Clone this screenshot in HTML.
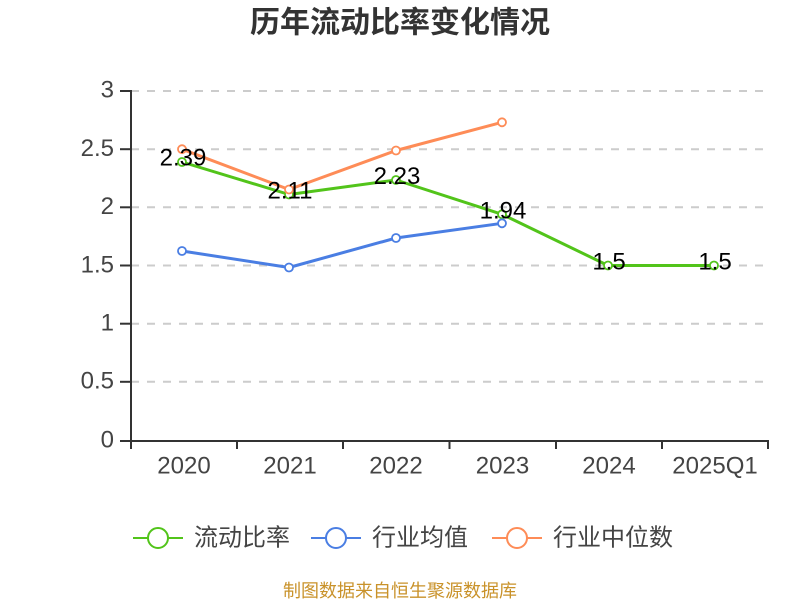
<!DOCTYPE html>
<html>
<head>
<meta charset="utf-8">
<style>
html,body{margin:0;padding:0;background:#fff;}
svg{display:block;}
text{font-family:"Liberation Sans","Noto Sans CJK SC",sans-serif;}
</style>
</head>
<body>
<svg width="800" height="600" viewBox="0 0 800 600" xmlns="http://www.w3.org/2000/svg">
  <rect width="800" height="600" fill="#fff"/>
  <text x="400" y="23" text-anchor="middle" dominant-baseline="central" font-size="30" font-weight="bold" fill="#333">历年流动比率变化情况</text>

  <!-- grid -->
  <g stroke="#cccccc" stroke-width="2" stroke-dasharray="8,8" fill="none">
    <line x1="131" y1="91" x2="768" y2="91"/>
    <line x1="131" y1="149.2" x2="768" y2="149.2"/>
    <line x1="131" y1="207.3" x2="768" y2="207.3"/>
    <line x1="131" y1="265.5" x2="768" y2="265.5"/>
    <line x1="131" y1="323.7" x2="768" y2="323.7"/>
    <line x1="131" y1="381.8" x2="768" y2="381.8"/>
  </g>

  <!-- axes -->
  <g stroke="#333" stroke-width="2" fill="none">
    <line x1="131" y1="90" x2="131" y2="441"/>
    <line x1="130" y1="441" x2="769" y2="441"/>
    <line x1="120" y1="91" x2="131" y2="91"/>
    <line x1="120" y1="149.2" x2="131" y2="149.2"/>
    <line x1="120" y1="207.3" x2="131" y2="207.3"/>
    <line x1="120" y1="265.5" x2="131" y2="265.5"/>
    <line x1="120" y1="323.7" x2="131" y2="323.7"/>
    <line x1="120" y1="381.8" x2="131" y2="381.8"/>
    <line x1="120" y1="441" x2="131" y2="441"/>
    <line x1="131" y1="441" x2="131" y2="449"/>
    <line x1="237" y1="441" x2="237" y2="449"/>
    <line x1="343" y1="441" x2="343" y2="449"/>
    <line x1="449.5" y1="441" x2="449.5" y2="449"/>
    <line x1="556" y1="441" x2="556" y2="449"/>
    <line x1="662" y1="441" x2="662" y2="449"/>
    <line x1="768" y1="441" x2="768" y2="449"/>
  </g>

  <!-- y labels -->
  <g font-size="24" fill="#444" text-anchor="end" dominant-baseline="central">
    <text x="114" y="90">3</text>
    <text x="114" y="148.5">2.5</text>
    <text x="114" y="206.5">2</text>
    <text x="114" y="265">1.5</text>
    <text x="114" y="323">1</text>
    <text x="114" y="381">0.5</text>
    <text x="114" y="440">0</text>
  </g>

  <!-- x labels -->
  <g font-size="24" fill="#444" text-anchor="middle" dominant-baseline="central">
    <text x="184" y="466">2020</text>
    <text x="290" y="466">2021</text>
    <text x="396" y="466">2022</text>
    <text x="502.5" y="466">2023</text>
    <text x="609" y="466">2024</text>
    <text x="715" y="466">2025Q1</text>
  </g>

  <!-- series: green -->
  <polyline fill="none" stroke="#52c41a" stroke-width="3" stroke-linejoin="round"
    points="182,162 289,194.5 396,180 502,214.3 608,265.5 714,265.5"/>
  <!-- blue -->
  <polyline fill="none" stroke="#4a7ee3" stroke-width="3" stroke-linejoin="round"
    points="182,251 289,267.5 396,238 502,223.3"/>
  <!-- orange -->
  <polyline fill="none" stroke="#fe8c57" stroke-width="3" stroke-linejoin="round"
    points="182,149.2 289,189.5 396,150.5 502,122.3"/>

  <g fill="#fff" stroke-width="1.8">
    <g stroke="#52c41a">
      <circle cx="182" cy="162" r="4"/>
      <circle cx="289" cy="194.5" r="4"/>
      <circle cx="396" cy="180" r="4"/>
      <circle cx="502" cy="214.3" r="4"/>
      <circle cx="608" cy="265.5" r="4"/>
      <circle cx="714" cy="265.5" r="4"/>
    </g>
    <g stroke="#4a7ee3">
      <circle cx="182" cy="251" r="4"/>
      <circle cx="289" cy="267.5" r="4"/>
      <circle cx="396" cy="238" r="4"/>
      <circle cx="502" cy="223.3" r="4"/>
    </g>
    <g stroke="#fe8c57">
      <circle cx="182" cy="149.2" r="4"/>
      <circle cx="289" cy="189.5" r="4"/>
      <circle cx="396" cy="150.5" r="4"/>
      <circle cx="502" cy="122.3" r="4"/>
    </g>
  </g>

  <!-- data labels -->
  <g font-size="24" fill="#000" text-anchor="middle" dominant-baseline="central">
    <text x="183" y="158">2.39</text>
    <text x="290" y="191">2.11</text>
    <text x="397" y="176.5">2.23</text>
    <text x="503" y="211">1.94</text>
    <text x="609" y="262">1.5</text>
    <text x="715" y="262">1.5</text>
  </g>

  <!-- legend -->
  <g stroke-width="2" fill="#fff">
    <line x1="133" y1="538" x2="183" y2="538" stroke="#52c41a"/>
    <circle cx="158" cy="538" r="10" stroke="#52c41a"/>
    <line x1="311" y1="538" x2="361" y2="538" stroke="#4a7ee3"/>
    <circle cx="336" cy="538" r="10" stroke="#4a7ee3"/>
    <line x1="492" y1="538" x2="542" y2="538" stroke="#fe8c57"/>
    <circle cx="517" cy="538" r="10" stroke="#fe8c57"/>
  </g>
  <g font-size="24" fill="#444" dominant-baseline="central">
    <text x="194" y="538">流动比率</text>
    <text x="372" y="538">行业均值</text>
    <text x="553" y="538">行业中位数</text>
  </g>

  <text x="400" y="591" text-anchor="middle" dominant-baseline="central" font-size="18" fill="#c9922a">制图数据来自恒生聚源数据库</text>
</svg>
</body>
</html>
